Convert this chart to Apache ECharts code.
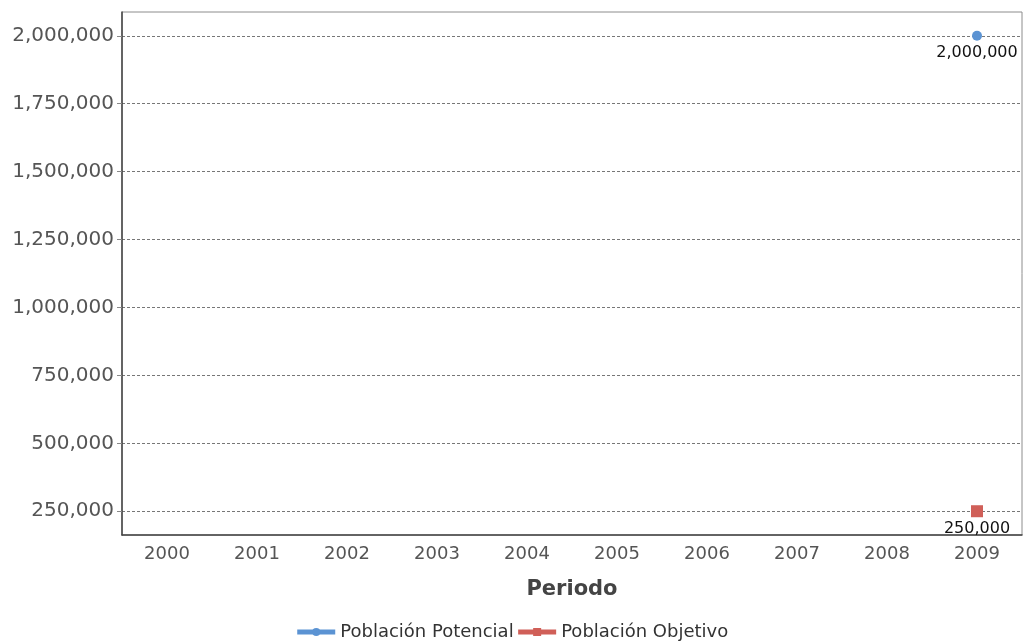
<!DOCTYPE html>
<html><head><meta charset="utf-8">
<script src="https://cdn.jsdelivr.net/npm/echarts@6/dist/echarts.min.js"></script>
<style>html,body{margin:0;padding:0;background:#fff}#c{width:1023px;height:643px}</style>
</head><body><div id="c"></div>
<script>
const categories = ['2000','2001','2002','2003','2004','2005','2006','2007','2008','2009'];
const poblacionPotencial = [null,null,null,null,null,null,null,null,null,2000000];
const poblacionObjetivo = [null,null,null,null,null,null,null,null,null,250000];
const yTicks = [250000,500000,750000,1000000,1250000,1500000,1750000,2000000];
const seriesNames = ['Población Potencial','Población Objetivo'];
const font = 'DejaVu Sans, Verdana, sans-serif';
const chart = echarts.init(document.getElementById('c'));
const fmt = v => Math.round(v).toString().replace(/\B(?=(\d{3})+(?!\d))/g, ',');
chart.setOption({
  animation: false,
  grid: {left: 122, right: 1, top: 12, bottom: 108, show: true, borderColor: '#8c8c8c', borderWidth: 1, containLabel: false},
  legend: {bottom: -3, left: 'center', itemGap: 2, itemWidth: 38, itemHeight: 10,
    textStyle: {fontFamily: font, fontSize: 18, color: '#333'},
    lineStyle: {width: 5},
    data: seriesNames},
  xAxis: {type: 'category', data: categories, boundaryGap: true,
    name: 'Periodo', nameLocation: 'middle', nameGap: 44,
    nameTextStyle: {fontFamily: font, fontSize: 21, fontWeight: 'bold', color: '#444'},
    axisLine: {lineStyle: {color: '#444', width: 1.5}},
    axisTick: {alignWithLabel: true, length: 5, lineStyle: {color: '#888'}},
    axisLabel: {fontFamily: font, fontSize: 18, color: '#555', margin: 10}},
  yAxis: {type: 'value', min: 162500, max: 2087500,
    axisLine: {show: true, lineStyle: {color: '#444', width: 1.5}},
    axisTick: {show: true, length: 5, lineStyle: {color: '#888'}, customValues: yTicks},
    axisLabel: {fontFamily: font, fontSize: 20, color: '#555', margin: 8, formatter: fmt, customValues: yTicks},
    splitLine: {lineStyle: {color: '#777', type: [3, 2], width: 1}}},
  series: [
    {name: seriesNames[0], type: 'line', data: poblacionPotencial, symbol: 'circle', symbolSize: 10,
     color: '#5b93d3', lineStyle: {width: 5},
     label: {show: true, position: 'bottom', distance: 4, fontFamily: font, fontSize: 16, color: '#111', formatter: p => fmt(p.value)}},
    {name: seriesNames[1], type: 'line', data: poblacionObjetivo, symbol: 'rect', symbolSize: 12,
     color: '#d05f58', lineStyle: {width: 5},
     label: {show: true, position: 'bottom', distance: 4, fontFamily: font, fontSize: 16, color: '#111', formatter: p => fmt(p.value)}}
  ]
});
</script></body></html>
